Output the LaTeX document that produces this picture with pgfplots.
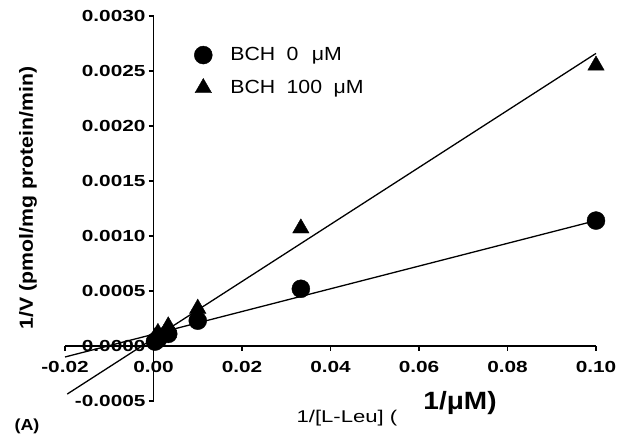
\documentclass[border=0pt]{standalone}
\usepackage{fontspec}
\setmainfont[FakeStretch=1.12]{Liberation Sans}
\newfontfamily\widefont[FakeStretch=1.3]{Liberation Sans}
\usepackage{pgfplots}
\pgfplotsset{compat=1.18}

% data: 1/[L-Leu] (1/uM) vs 1/V
\pgfplotstableread{
x        y
0.1      0.00114
0.0333   0.00052
0.01     0.00023
0.00333  0.00011
0.001    0.00006
0.000333 0.00004
}\bchzero
\pgfplotstableread{
x        y
0.1      0.00255
0.0333   0.00107
0.01     0.00034
0.00333  0.00018
0.001    0.00012
0.000333 0.00008
}\bchhundred

\begin{document}
\begin{tikzpicture}[x=1pt,y=1pt]
\useasboundingbox (0,0) rectangle (627,441);
\begin{axis}[
  at={(65pt,40pt)}, anchor=south west,
  scale only axis,
  width=531pt, height=385pt,
  xmin=-0.02, xmax=0.10,
  ymin=-0.0005, ymax=0.0030,
  enlargelimits=false,
  clip=false,
  axis lines=middle,
  axis line style={-, line width=1.6pt},
  hide obscured x ticks=false,
  hide obscured y ticks=false,
  xtick={-0.02,0,0.02,0.04,0.06,0.08,0.10},
  ytick={-0.0005,0,0.0005,0.0010,0.0015,0.0020,0.0025,0.0030},
  scaled ticks=false,
  xticklabel style={/tikz/yshift=-9pt, /pgf/number format/.cd, fixed, fixed zerofill, precision=2},
  yticklabel style={/tikz/xshift=-2pt, /pgf/number format/.cd, fixed, fixed zerofill, precision=4},
  /pgf/number format/assume math mode=true,
  tick label style={font=\widefont\fontsize{16}{19}\selectfont\bfseries},
  tick align=center,
  major tick length=5pt,
  tick style={line width=1.4pt, black},
  xtick style={yshift=-2.5pt},
  ytick style={xshift=-2.5pt},
  legend style={draw=none, fill=none, at={(axis cs:0.0085,0.00275)}, anchor=north west,
    font=\fontsize{19}{22}\selectfont, row sep=14pt,
    /tikz/every odd column/.append style={column sep=16pt}},
  legend cell align=left,
]
\addplot[only marks, mark=*, mark size=9pt, black] table {\bchzero};
\addlegendentry{BCH\hspace{0.6em}0\hspace{0.7em}μM}
\addplot[only marks, mark=triangle*, mark size=9.5pt, black] table {\bchhundred};
\addlegendentry{BCH\hspace{0.6em}100\hspace{0.6em}μM}
% fitted lines
\addplot[black, line width=1.3pt, forget plot] coordinates {(-0.02,-0.0001) (0.1,0.00114)};
\addplot[black, line width=1.3pt, forget plot] coordinates {(-0.0195,-0.000437) (0.1,0.00266)};
\end{axis}
\node[rotate=90, font=\fontsize{19}{22}\selectfont\bfseries] at (28,243) {1/V (pmol/mg protein/min)};
\node[font=\widefont\fontsize{17}{20}\selectfont] at (347,23) {1/[L-Leu] (};
\node[font=\fontsize{25}{29}\selectfont\bfseries] at (460,38) {1/μM)};
\node[font=\fontsize{16}{19}\selectfont\bfseries] at (27,15) {(A)};
\end{tikzpicture}
\end{document}
